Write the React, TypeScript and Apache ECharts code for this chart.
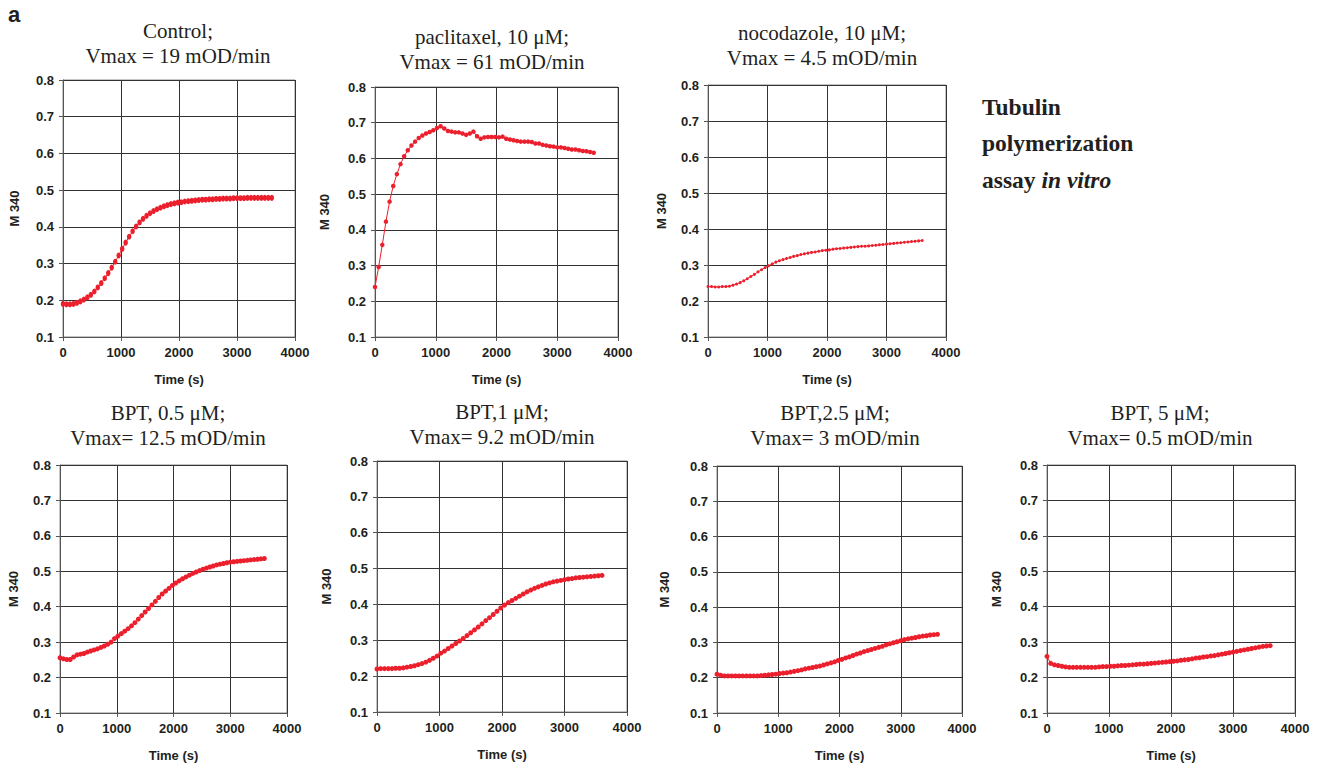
import React, { useEffect, useRef } from "react";
import * as echarts from "echarts";

// ---- data (time in s, M 340 absorbance) ----
const TIME_S = [
  0, 60, 120, 180, 240, 300, 360, 420, 480, 540,
  600, 660, 720, 780, 840, 900, 960, 1020, 1080, 1140,
  1200, 1260, 1320, 1380, 1440, 1500, 1560, 1620, 1680, 1740,
  1800, 1860, 1920, 1980, 2040, 2100, 2160, 2220, 2280, 2340,
  2400, 2460, 2520, 2580, 2640, 2700, 2760, 2820, 2880, 2940,
  3000, 3060, 3120, 3180, 3240, 3300, 3360, 3420, 3480, 3540,
  3600,
];

const CONTROL = [
  0.190, 0.189, 0.189, 0.190, 0.193, 0.197, 0.202, 0.208, 0.215, 0.224,
  0.235, 0.247, 0.260, 0.274, 0.289, 0.305, 0.322, 0.340, 0.357, 0.373,
  0.388, 0.401, 0.412, 0.422, 0.430, 0.437, 0.443, 0.448, 0.452, 0.456,
  0.459, 0.462, 0.464, 0.466, 0.467, 0.469, 0.470, 0.471, 0.472, 0.473,
  0.474, 0.474, 0.475, 0.475, 0.476, 0.476, 0.477, 0.477, 0.477, 0.478,
  0.478, 0.478, 0.478, 0.479, 0.479, 0.479, 0.479, 0.479, 0.479, 0.479,
  0.479,
];

const PACLITAXEL = [
  0.240, 0.296, 0.358, 0.423, 0.479, 0.523, 0.556, 0.584, 0.606, 0.623,
  0.636, 0.647, 0.657, 0.664, 0.670, 0.674, 0.679, 0.685, 0.690, 0.684,
  0.677, 0.675, 0.673, 0.673, 0.670, 0.666, 0.670, 0.675, 0.662, 0.655,
  0.659, 0.660, 0.660, 0.660, 0.659, 0.661, 0.655, 0.653, 0.651, 0.649,
  0.647, 0.647, 0.647, 0.646, 0.642, 0.642, 0.638, 0.636, 0.634, 0.633,
  0.631, 0.631, 0.629, 0.627, 0.625, 0.625, 0.623, 0.621, 0.620, 0.618,
  0.616,
];

const NOCODAZOLE = [
  0.240, 0.240, 0.239, 0.239, 0.240, 0.240, 0.241, 0.244, 0.247, 0.251,
  0.256, 0.262, 0.268, 0.274, 0.281, 0.287, 0.293, 0.298, 0.303, 0.308,
  0.312, 0.315, 0.318, 0.321, 0.324, 0.326, 0.329, 0.331, 0.333, 0.335,
  0.336, 0.338, 0.340, 0.341, 0.342, 0.344, 0.345, 0.346, 0.347, 0.348,
  0.349, 0.350, 0.351, 0.352, 0.352, 0.353, 0.354, 0.355, 0.356, 0.357,
  0.358, 0.359, 0.360, 0.361, 0.362, 0.363, 0.364, 0.365, 0.366, 0.367,
  0.368,
];

const BPT_05 = [
  0.256, 0.253, 0.251, 0.251, 0.258, 0.264, 0.266, 0.268, 0.272, 0.275,
  0.278, 0.281, 0.285, 0.289, 0.294, 0.300, 0.310, 0.317, 0.324, 0.331,
  0.338, 0.346, 0.355, 0.365, 0.375, 0.385, 0.395, 0.405, 0.415, 0.426,
  0.436, 0.444, 0.452, 0.460, 0.467, 0.473, 0.479, 0.484, 0.489, 0.494,
  0.498, 0.502, 0.506, 0.509, 0.512, 0.515, 0.518, 0.520, 0.522, 0.524,
  0.526, 0.527, 0.528, 0.529, 0.530, 0.531, 0.532, 0.533, 0.534, 0.535,
  0.536,
];

const BPT_1 = [
  0.220, 0.221, 0.221, 0.221, 0.221, 0.222, 0.222, 0.223, 0.225, 0.227,
  0.229, 0.232, 0.235, 0.239, 0.244, 0.250, 0.256, 0.264, 0.270, 0.277,
  0.284, 0.291, 0.298, 0.305, 0.313, 0.321, 0.329, 0.337, 0.346, 0.355,
  0.363, 0.372, 0.381, 0.390, 0.398, 0.405, 0.411, 0.417, 0.423, 0.429,
  0.435, 0.440, 0.445, 0.449, 0.453, 0.457, 0.460, 0.463, 0.465, 0.467,
  0.469, 0.471, 0.472, 0.474, 0.475, 0.476, 0.477, 0.478, 0.479, 0.480,
  0.481,
];

const BPT_25 = [
  0.210, 0.207, 0.205, 0.205, 0.205, 0.205, 0.205, 0.205, 0.205, 0.205,
  0.205, 0.205, 0.206, 0.207, 0.208, 0.209, 0.210, 0.212, 0.213, 0.214,
  0.216, 0.218, 0.220, 0.222, 0.225, 0.227, 0.229, 0.231, 0.233, 0.236,
  0.239, 0.242, 0.245, 0.249, 0.252, 0.256, 0.259, 0.263, 0.267, 0.270,
  0.274, 0.277, 0.280, 0.283, 0.286, 0.289, 0.293, 0.296, 0.299, 0.302,
  0.305, 0.308, 0.310, 0.312, 0.314, 0.316, 0.318, 0.319, 0.321, 0.322,
  0.323,
];

const BPT_5 = [
  0.260, 0.240, 0.236, 0.234, 0.232, 0.230, 0.229, 0.229, 0.229, 0.229,
  0.229, 0.229, 0.229, 0.229, 0.230, 0.231, 0.231, 0.232, 0.232, 0.233,
  0.234, 0.234, 0.235, 0.236, 0.237, 0.238, 0.238, 0.239, 0.240, 0.241,
  0.242, 0.243, 0.244, 0.245, 0.246, 0.247, 0.249, 0.250, 0.251, 0.253,
  0.255, 0.256, 0.258, 0.259, 0.261, 0.262, 0.264, 0.266, 0.268, 0.270,
  0.272, 0.274, 0.276, 0.278, 0.280, 0.282, 0.284, 0.286, 0.288, 0.289,
  0.290,
];

const PANEL_TITLES = [
  "Control;\nVmax = 19 mOD/min",
  "paclitaxel, 10 \u03bcM;\nVmax = 61 mOD/min",
  "nocodazole, 10 \u03bcM;\nVmax = 4.5 mOD/min",
  "BPT, 0.5 \u03bcM;\nVmax= 12.5 mOD/min",
  "BPT,1 \u03bcM;\nVmax= 9.2 mOD/min",
  "BPT,2.5 \u03bcM;\nVmax= 3 mOD/min",
  "BPT, 5 \u03bcM;\nVmax= 0.5 mOD/min",
];

const SERIES_VALUES = [CONTROL, PACLITAXEL, NOCODAZOLE, BPT_05, BPT_1, BPT_25, BPT_5];

const X_NAME = "Time (s)";
const Y_NAME = "M 340";
const SIDE_TEXT = ["Tubulin", "polymerization"];

// ---- layout (pixels) ----
const LAYOUT = [
  { left: 63, top: 80, width: 232, height: 257, tx: 178, ty: 19, yGap: 42, sym: [4.5, 6] },
  { left: 375, top: 87, width: 243, height: 250, tx: 492, ty: 25, yGap: 44, sym: 4.5 },
  { left: 708, top: 85, width: 238, height: 252, tx: 822, ty: 21, yGap: 40, sym: 3 },
  { left: 60, top: 465, width: 227, height: 248, tx: 168, ty: 401, yGap: 40, sym: 5 },
  { left: 377, top: 461, width: 250, height: 251, tx: 502, ty: 400, yGap: 44, sym: 5 },
  { left: 717, top: 466, width: 245, height: 247, tx: 835, ty: 401, yGap: 46, sym: 5 },
  { left: 1047, top: 465, width: 248, height: 248, tx: 1160, ty: 401, yGap: 44, sym: 5 },
];

const RED = "#ec1f2d";
const INK = "#231f20";
const SANS = "Liberation Sans, Arial, sans-serif";
const SERIF = "Liberation Serif, Times New Roman, serif";

export default function App() {
  const ref = useRef<HTMLDivElement>(null);

  useEffect(() => {
    document.body.style.margin = "0";
    if (!ref.current) return;
    const chart = echarts.init(ref.current, undefined, { renderer: "svg" });

    const grid = LAYOUT.map((l) => ({
      left: l.left,
      top: l.top,
      width: l.width,
      height: l.height,
      show: true,
      borderColor: "#8a8a8a",
      borderWidth: 1,
      backgroundColor: "#fff",
      containLabel: false,
    }));

    const labelStyle = {
      fontFamily: SANS,
      fontWeight: "bold" as const,
      fontSize: 13,
      color: INK,
    };

    const xAxis = LAYOUT.map((_, i) => ({
      gridIndex: i,
      type: "value",
      min: 0,
      max: 4000,
      interval: 1000,
      name: X_NAME,
      nameLocation: "middle",
      nameGap: 36,
      nameTextStyle: { ...labelStyle },
      axisLine: { show: true, onZero: false, lineStyle: { color: "#555", width: 1 } },
      axisTick: { show: true, inside: false, length: 4, lineStyle: { color: "#555" } },
      axisLabel: { ...labelStyle, margin: 9, formatter: (v: number) => String(v) },
      splitLine: { show: true, lineStyle: { color: "#333", width: 1 } },
    }));

    const yAxis = LAYOUT.map((l, i) => ({
      gridIndex: i,
      type: "value",
      min: 0.1,
      max: 0.8,
      interval: 0.1,
      name: Y_NAME,
      nameLocation: "middle",
      nameGap: l.yGap,
      nameRotate: 90,
      nameTextStyle: { ...labelStyle },
      axisLine: { show: true, onZero: false, lineStyle: { color: "#555", width: 1 } },
      axisTick: { show: true, inside: false, length: 4, lineStyle: { color: "#555" } },
      axisLabel: { ...labelStyle, margin: 9, formatter: (v: number) => v.toFixed(1) },
      splitLine: { show: true, lineStyle: { color: "#333", width: 1 } },
    }));

    const series = SERIES_VALUES.map((vals, i) => ({
      type: "line",
      xAxisIndex: i,
      yAxisIndex: i,
      data: TIME_S.map((t, k) => [t, vals[k]]),
      symbol: "circle",
      symbolSize: LAYOUT[i].sym,
      showSymbol: true,
      showAllSymbol: true,
      lineStyle: { color: RED, width: 1 },
      itemStyle: { color: RED },
      silent: true,
      z: 5,
    }));

    const titleTexts = LAYOUT.map((l, i) => ({
      type: "text",
      x: l.tx,
      y: l.ty,
      style: {
        text: PANEL_TITLES[i],
        fill: INK,
        fontFamily: SERIF,
        fontSize: 21,
        lineHeight: 24.5,
        align: "center",
        textAlign: "center",
        verticalAlign: "top",
        textVerticalAlign: "top",
      },
    }));

    const sideBase = {
      fill: INK,
      fontFamily: SERIF,
      fontSize: 23.5,
      fontWeight: "bold",
      align: "left",
      textAlign: "left",
      verticalAlign: "middle",
      textVerticalAlign: "middle",
    };

    const graphic = [
      {
        type: "text",
        x: 8,
        y: 14,
        style: {
          text: "a",
          fill: INK,
          fontFamily: SANS,
          fontSize: 22,
          fontWeight: "bold",
          align: "left",
          textAlign: "left",
          verticalAlign: "middle",
          textVerticalAlign: "middle",
        },
      },
      ...titleTexts,
      { type: "text", x: 982, y: 107, style: { ...sideBase, text: SIDE_TEXT[0] } },
      { type: "text", x: 982, y: 143, style: { ...sideBase, text: SIDE_TEXT[1] } },
      {
        type: "text",
        x: 982,
        y: 180,
        style: {
          ...sideBase,
          text: "{b|assay }{i|in vitro}",
          rich: {
            b: { fontFamily: SERIF, fontSize: 23.5, fontWeight: "bold", fill: INK, color: INK },
            i: { fontFamily: SERIF, fontSize: 23.5, fontWeight: "bold", fontStyle: "italic", fill: INK, color: INK },
          },
        },
      },
    ];

    chart.setOption({
      animation: false,
      backgroundColor: "#fff",
      grid,
      xAxis,
      yAxis,
      series,
      graphic,
    });

    return () => chart.dispose();
  }, []);

  return (
    <div
      ref={ref}
      style={{ position: "absolute", left: 0, top: 0, width: 1320, height: 767 }}
    />
  );
}
